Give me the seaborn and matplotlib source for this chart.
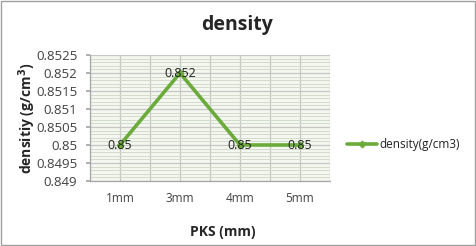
import matplotlib
matplotlib.use("Agg")
import matplotlib.pyplot as plt
import seaborn as sns
import pandas as pd
from matplotlib.ticker import MultipleLocator, FixedLocator

categories = ["1mm", "3mm", "4mm", "5mm"]
density = [0.85, 0.852, 0.85, 0.85]
value_labels = ["0.85", "0.852", "0.85", "0.85"]
yticks = [0.849, 0.8495, 0.85, 0.8505, 0.851, 0.8515, 0.852, 0.8525]
ytick_labels = ["0.849", "0.8495", "0.85", "0.8505", "0.851", "0.8515", "0.852", "0.8525"]

sns.set_theme(style="white")
plt.rcParams['font.family'] = ['Open Sans', 'DejaVu Sans']

df = pd.DataFrame({"PKS": categories, "density": density})

fig = plt.figure(figsize=(4.76, 2.46), dpi=100)
ax = fig.add_axes([90/476, 1-181/246, 240/476, 126/246])
ax.set_facecolor("#f3f7ef")

green = "#6aab3c"
sns.lineplot(data=df, x="PKS", y="density", ax=ax, color=green, linewidth=2.6,
             marker="D", markersize=3.5, markeredgecolor=green,
             label="density(g/cm3)", sort=False)

ax.set_xlim(-0.5, 3.5)
ax.set_ylim(0.849, 0.8525)
ax.yaxis.set_major_locator(FixedLocator(yticks))
ax.set_yticklabels(ytick_labels)
ax.yaxis.set_minor_locator(MultipleLocator(0.0001))
ax.xaxis.set_minor_locator(FixedLocator([-0.5, 0.5, 1.5, 2.5, 3.5]))

ax.grid(which="major", axis="both", color="#c6c6c6", linewidth=0.9)
ax.grid(which="minor", axis="y", color="#d2dccb", linewidth=0.7)
ax.grid(which="minor", axis="x", color="#c6c6c6", linewidth=0.9)
ax.set_axisbelow(True)

for s in ["top", "right"]:
    ax.spines[s].set_visible(False)
for s in ["left", "bottom"]:
    ax.spines[s].set_color("#a6a6a6")
    ax.spines[s].set_linewidth(0.9)

ax.tick_params(axis="y", which="major", length=3, color="#a6a6a6", labelsize=9.5,
               labelcolor="#404040", pad=6, left=True)
ax.tick_params(axis="y", which="minor", length=0)
ax.tick_params(axis="x", which="both", length=0, labelsize=8.5, labelcolor="#404040", pad=8)

for i, (v, lab) in enumerate(zip(density, value_labels)):
    ax.text(i, v, lab, ha="center", va="center", fontsize=9, color="#202020")

ax.set_xlabel("")
ax.set_ylabel("")
fig.text(223/476, 1-232/246, "PKS (mm)", ha="center", va="center", fontsize=10, fontweight="bold")
fig.text(27/476, 1-118/246, "densitiy (g/cm$^\\mathbf{3}$)", ha="center", va="center",
         rotation=90, fontsize=10, fontweight="bold")
fig.text(237/476, 1-25/246, "density", ha="center", va="center", fontsize=14, fontweight="bold")

leg = ax.legend(loc="center left", bbox_to_anchor=(1.05, 0.29), frameon=False,
                fontsize=8.5, handlelength=2.6, handletextpad=0.2, borderaxespad=0)
for t in leg.get_texts():
    t.set_color("#202020")

fig.patches.append(plt.Rectangle((0.002, 0.004), 0.996, 0.992, transform=fig.transFigure,
                                 fill=False, edgecolor="#a0a0a0", linewidth=1))

fig.savefig("out.png", dpi=100)
